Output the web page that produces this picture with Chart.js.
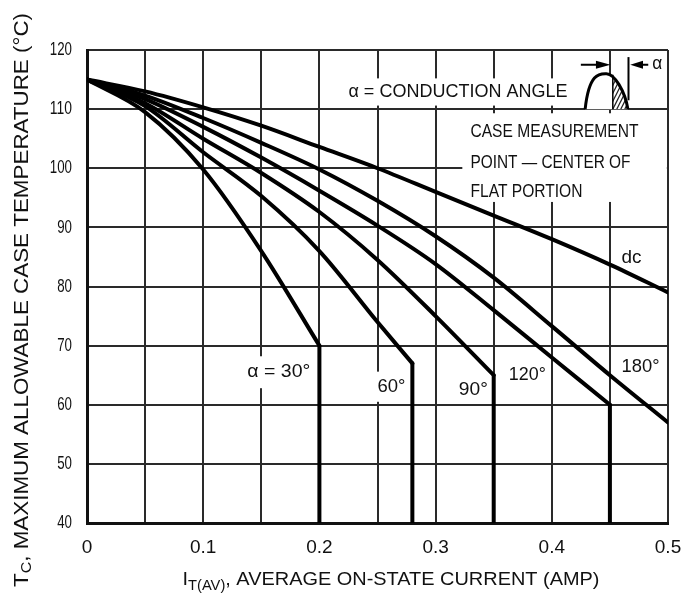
<!DOCTYPE html>
<html>
<head>
<meta charset="utf-8">
<script src="https://cdn.jsdelivr.net/npm/chart.js@4.4.1/dist/chart.umd.min.js"></script>
<style>
  body { margin: 0; background: #fff; }
  #wrap { width: 681px; height: 606px; }
</style>
</head>
<body>
<div id="wrap"><canvas id="derating" width="681" height="606"></canvas></div>
<script>
    // values (current in A, case temp in °C)
    const currents = [0, 0.05, 0.1, 0.15, 0.2, 0.25, 0.3, 0.35, 0.4, 0.45, 0.5];
    const tempDc = [115, 113, 110.3, 107.2, 103.6, 100, 96, 92, 88, 83.7, 79];
    const temp180 = [115, 112.3, 108.5, 104.3, 99.8, 94.5, 88.5, 81.5, 73.3, 65, 57];
    const temp120 = [115, 111.7, 107, 101.8, 96.2, 90.3, 83.8, 76, 68, 60];
    const temp90 = [115, 111, 105, 99.2, 92.6, 84.5, 75, 65];
    const current60 = [0, 0.05, 0.1, 0.15, 0.2, 0.25, 0.28];
    const temp60 = [115, 110.5, 102.7, 95.3, 86, 74, 67];
    const temp30 = [115, 109.5, 99.8, 86, 70];

    const xTickLabels = ['0', '0.1', '0.2', '0.3', '0.4', '0.5'];
    const yTickLabels = ['40', '50', '60', '70', '80', '90', '100', '110', '120'];
    const curveNames = ['dc', '180°', '120°', '90°', '60°', 'α = 30°'];

    const X_MIN = 0, X_MAX = 0.5, Y_MIN = 40, Y_MAX = 120;
    const FONT = "'Liberation Sans', Arial, sans-serif";

    function toPoints(xs, ys) {
        return ys.map((y, i) => ({ x: xs[i], y: y }));
    }

    function curve(name, xs, ys) {
        return {
            label: name,
            data: toPoints(xs, ys),
            showLine: true,
            borderColor: '#000',
            borderWidth: 4,
            pointRadius: 0,
            cubicInterpolationMode: 'monotone',
            borderCapStyle: 'round'
        };
    }

    // vertical drop from the end of a curve down to the bottom axis
    function cutoff(name, xs, ys) {
        const last = ys.length - 1;
        return {
            label: name + ' limit',
            data: [{ x: xs[last], y: ys[last] }, { x: xs[last], y: Y_MIN }],
            showLine: true,
            borderColor: '#000',
            borderWidth: 4,
            pointRadius: 0,
            tension: 0,
            borderCapStyle: 'round'
        };
    }

    // draw text squeezed (or stretched) to a given width
    function fitText(ctx, parts, x, y, width, align) {
        ctx.save();
        let natural = 0;
        parts.forEach(p => {
            ctx.font = p.size + 'px ' + FONT;
            natural += ctx.measureText(p.text).width;
        });
        const sx = width ? width / natural : 1;
        const total = natural * sx;
        let start = x;
        if (align === 'center') start = x - total / 2;
        if (align === 'right') start = x - total;
        ctx.translate(start, y);
        ctx.scale(sx, 1);
        ctx.fillStyle = '#111';
        ctx.textBaseline = 'middle';
        ctx.textAlign = 'left';
        let cx = 0;
        parts.forEach(p => {
            ctx.font = p.size + 'px ' + FONT;
            ctx.fillText(p.text, cx, p.dy || 0);
            cx += ctx.measureText(p.text).width;
        });
        ctx.restore();
    }

    // annotations, in axis units
    const whiteBoxes = [
        [0.216, 115.2, 0.421, 110.6],
        [0.323, 109.3, 0.499, 94.3],
        [0.134, 68.2, 0.196, 62.8],
        [0.246, 65.6, 0.277, 60.5],
        [0.317, 64.2, 0.345, 61.0],
        [0.361, 66.6, 0.396, 63.5],
        [0.458, 68.0, 0.493, 64.6],
        [0.458, 86.4, 0.480, 83.4]
    ];
    const textNotes = [
        { text: 'α = CONDUCTION ANGLE', x: 0.225, y: 112.9, w: 219 },
        { text: 'CASE MEASUREMENT', x: 0.330, y: 106.1, w: 168 },
        { text: 'POINT — CENTER OF', x: 0.330, y: 101.0, w: 160 },
        { text: 'FLAT PORTION', x: 0.330, y: 96.1, w: 112 },
        { text: curveNames[0], x: 0.460, y: 84.9, w: 20 },
        { text: curveNames[5], x: 0.138, y: 65.5, w: 63 },
        { text: curveNames[4], x: 0.250, y: 63.0, w: 28 },
        { text: curveNames[3], x: 0.320, y: 62.6, w: 29 },
        { text: curveNames[2], x: 0.363, y: 65.1, w: 37 },
        { text: curveNames[1], x: 0.460, y: 66.5, w: 38 }
    ];

    const notesPlugin = {
        id: 'notes',
        beforeDatasetsDraw(chart) {
            const ctx = chart.ctx;
            const xs = chart.scales.x, ys = chart.scales.y;
            const px = v => xs.getPixelForValue(v);
            const py = v => ys.getPixelForValue(v);

            ctx.save();
            ctx.fillStyle = '#fff';
            whiteBoxes.forEach(b => {
                ctx.fillRect(px(b[0]), py(b[1]), px(b[2]) - px(b[0]), py(b[3]) - py(b[1]));
            });
            ctx.restore();

            textNotes.forEach(t => {
                fitText(ctx, [{ text: t.text, size: 19 }], px(t.x), py(t.y), t.w, 'left');
            });

            // conduction angle sketch: half sine lobe with hatched tail
            const x0 = px(0.4287), x1 = px(0.4655), base = py(110), top = py(116);
            const peakX = px(0.447);
            ctx.save();
            ctx.beginPath();
            ctx.moveTo(x0, base);
            ctx.bezierCurveTo(x0 + 4, top - 2, peakX - 6, top, peakX, top);
            ctx.bezierCurveTo(peakX + 8, top, x1 - 3, base - 18, x1, base);
            ctx.closePath();
            ctx.fillStyle = '#fff';
            ctx.fill();
            ctx.save();
            ctx.clip();
            ctx.beginPath();
            const cut = px(0.4525);
            ctx.rect(cut, top - 2, x1 - cut + 2, base - top + 2);
            ctx.clip();
            ctx.strokeStyle = '#222';
            ctx.lineWidth = 1.2;
            for (let k = -40; k < 40; k += 4) {
                ctx.beginPath();
                ctx.moveTo(cut + k, base);
                ctx.lineTo(cut + k + 20, top - 4);
                ctx.stroke();
            }
            ctx.restore();
            ctx.beginPath();
            ctx.moveTo(x0, base);
            ctx.bezierCurveTo(x0 + 4, top - 2, peakX - 6, top, peakX, top);
            ctx.bezierCurveTo(peakX + 8, top, x1 - 3, base - 18, x1, base);
            ctx.strokeStyle = '#000';
            ctx.lineWidth = 3;
            ctx.stroke();
            ctx.beginPath();
            ctx.moveTo(cut, base);
            ctx.lineTo(cut, top + 1);
            ctx.lineWidth = 1.5;
            ctx.stroke();

            // marker line and arrows
            const mark = px(0.466);
            ctx.beginPath();
            ctx.moveTo(mark, py(118.8));
            ctx.lineTo(mark, py(111.5));
            ctx.lineWidth = 2;
            ctx.stroke();
            const ay = py(117.5);
            ctx.lineWidth = 2;
            ctx.beginPath();
            ctx.moveTo(px(0.425), ay); ctx.lineTo(px(0.44), ay);
            ctx.moveTo(px(0.483), ay); ctx.lineTo(px(0.476), ay);
            ctx.stroke();
            ctx.fillStyle = '#000';
            ctx.beginPath();
            ctx.moveTo(px(0.4505), ay); ctx.lineTo(px(0.438), ay - 4); ctx.lineTo(px(0.438), ay + 4);
            ctx.closePath(); ctx.fill();
            ctx.beginPath();
            ctx.moveTo(px(0.4675), ay); ctx.lineTo(px(0.4785), ay - 4); ctx.lineTo(px(0.4785), ay + 4);
            ctx.closePath(); ctx.fill();
            ctx.restore();
            fitText(ctx, [{ text: 'α', size: 18 }], px(0.4865), ay - 1, 10, 'left');
        },
        afterDraw(chart) {
            const ctx = chart.ctx;
            const xs = chart.scales.x, ys = chart.scales.y;
            const area = chart.chartArea;

            xTickLabels.forEach(lbl => {
                fitText(ctx, [{ text: lbl, size: 19 }], xs.getPixelForValue(Number(lbl)), area.bottom + 25, null, 'center');
            });
            yTickLabels.forEach(lbl => {
                const w = lbl.length * 7.4;
                fitText(ctx, [{ text: lbl, size: 19 }], area.left - 15, ys.getPixelForValue(Number(lbl)), w, 'right');
            });

            // x axis title with subscript
            fitText(ctx, [
                { text: 'I', size: 19 },
                { text: 'T(AV)', size: 14, dy: 6 },
                { text: ', AVERAGE ON-STATE CURRENT (AMP)', size: 19 }
            ], 391, 580, 417, 'center');

            // y axis title, rotated
            ctx.save();
            ctx.translate(22, 300);
            ctx.rotate(-Math.PI / 2);
            fitText(ctx, [
                { text: 'T', size: 21 },
                { text: 'C', size: 15, dy: 5 },
                { text: ', MAXIMUM ALLOWABLE CASE TEMPERATURE (°C)', size: 21 }
            ], 0, 0, 574, 'center');
            ctx.restore();
        }
    };

    const ctx = document.getElementById('derating').getContext('2d');
    new Chart(ctx, {
        type: 'scatter',
        data: {
            datasets: [
                curve(curveNames[0], currents, tempDc),
                curve(curveNames[1], currents, temp180),
                curve(curveNames[2], currents, temp120),
                cutoff(curveNames[2], currents, temp120),
                curve(curveNames[3], currents, temp90),
                cutoff(curveNames[3], currents, temp90),
                curve(curveNames[4], current60, temp60),
                cutoff(curveNames[4], current60, temp60),
                curve(curveNames[5], currents, temp30),
                cutoff(curveNames[5], currents, temp30)
            ]
        },
        options: {
            responsive: false,
            animation: false,
            layout: { padding: { top: 50, right: 13, left: 0, bottom: 0 } },
            plugins: {
                legend: { display: false },
                tooltip: { enabled: false }
            },
            scales: {
                x: {
                    type: 'linear',
                    min: X_MIN,
                    max: X_MAX,
                    ticks: { stepSize: 0.05, display: false },
                    grid: { color: '#2a2a2a', lineWidth: 2, drawTicks: false },
                    border: { display: true, color: '#111', width: 3 },
                    afterFit: scale => { scale.height = 83; }
                },
                y: {
                    min: Y_MIN,
                    max: Y_MAX,
                    ticks: { stepSize: 10, display: false },
                    grid: { color: '#2a2a2a', lineWidth: 2, drawTicks: false },
                    border: { display: true, color: '#111', width: 3 },
                    afterFit: scale => { scale.width = 87; }
                }
            }
        },
        plugins: [notesPlugin]
    });
</script>
</body>
</html>
